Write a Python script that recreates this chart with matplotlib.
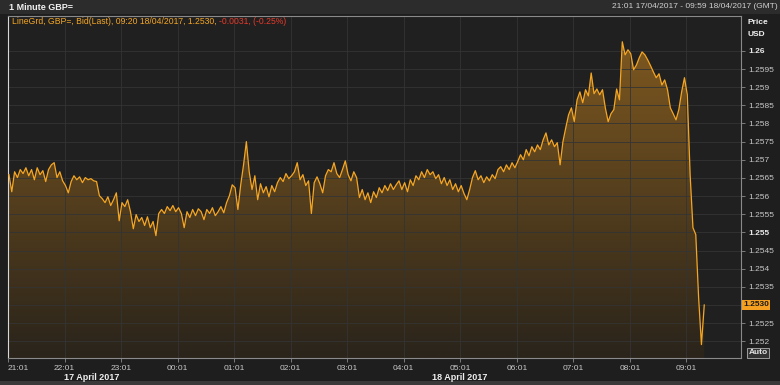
import matplotlib
matplotlib.use("Agg")
import matplotlib.pyplot as plt
import matplotlib.dates as mdates
from matplotlib.colors import LinearSegmentedColormap
from matplotlib.patches import Rectangle
import numpy as np
import pandas as pd

plt.rcParams['font.family'] = ['Liberation Sans', 'DejaVu Sans']

# GBP= bid, sampled every 3 minutes from 21:02 17/04 to 09:20 18/04
prices = [
    # 21:02 - 21:59
    1.25659, 1.25612, 1.25667, 1.25651, 1.25673, 1.25662, 1.25678, 1.25656, 1.25673, 1.25645,
    1.25678, 1.25659, 1.25670, 1.25640, 1.25673, 1.25686, 1.25692, 1.25651, 1.25667, 1.25642,
    # 22:02 - 22:59
    1.25629, 1.25609, 1.25640, 1.25656, 1.25645, 1.25653, 1.25637, 1.25651, 1.25645, 1.25648,
    1.25642, 1.25640, 1.25601, 1.25593, 1.25582, 1.25598, 1.25574, 1.25590, 1.25609, 1.25532,
    # 23:02 - 23:59
    1.25582, 1.25571, 1.25590, 1.25557, 1.25510, 1.25549, 1.25530, 1.25541, 1.25519, 1.25543,
    1.25513, 1.25530, 1.25491, 1.25552, 1.25563, 1.25552, 1.25571, 1.25560, 1.25574, 1.25557,
    # 00:02 - 00:59
    1.25568, 1.25552, 1.25513, 1.25557, 1.25541, 1.25563, 1.25546, 1.25565, 1.25557, 1.25535,
    1.25563, 1.25552, 1.25568, 1.25546, 1.25557, 1.25571, 1.25554, 1.25582, 1.25601, 1.25631,
    # 01:02 - 01:59
    1.25623, 1.25563, 1.25631, 1.25686, 1.25750, 1.25667, 1.25618, 1.25656, 1.25590, 1.25634,
    1.25609, 1.25626, 1.25598, 1.25629, 1.25612, 1.25637, 1.25651, 1.25640, 1.25662, 1.25648,
    # 02:02 - 02:59
    1.25656, 1.25667, 1.25692, 1.25645, 1.25659, 1.25629, 1.25642, 1.25552, 1.25637, 1.25653,
    1.25634, 1.25609, 1.25656, 1.25673, 1.25667, 1.25692, 1.25662, 1.25651, 1.25673, 1.25697,
    # 03:02 - 03:59
    1.25659, 1.25642, 1.25667, 1.25651, 1.25596, 1.25618, 1.25590, 1.25609, 1.25582, 1.25612,
    1.25596, 1.25623, 1.25609, 1.25629, 1.25615, 1.25634, 1.25618, 1.25631, 1.25642, 1.25618,
    # 04:02 - 04:59
    1.25637, 1.25612, 1.25645, 1.25629, 1.25656, 1.25645, 1.25667, 1.25651, 1.25673, 1.25659,
    1.25667, 1.25648, 1.25659, 1.25634, 1.25651, 1.25629, 1.25645, 1.25618, 1.25634, 1.25612,
    # 05:02 - 05:59
    1.25629, 1.25607, 1.25590, 1.25618, 1.25651, 1.25670, 1.25645, 1.25656, 1.25637, 1.25653,
    1.25642, 1.25659, 1.25648, 1.25673, 1.25681, 1.25667, 1.25686, 1.25673, 1.25692, 1.25678,
    # 06:02 - 06:59
    1.25695, 1.25714, 1.25700, 1.25728, 1.25711, 1.25736, 1.25722, 1.25741, 1.25728, 1.25755,
    1.25774, 1.25741, 1.25755, 1.25736, 1.25747, 1.25686, 1.25750, 1.25788, 1.25824, 1.25843,
    # 07:02 - 07:59
    1.25805, 1.25865, 1.25887, 1.25857, 1.25893, 1.25876, 1.25939, 1.25882, 1.25895, 1.25879,
    1.25893, 1.25843, 1.25805, 1.25827, 1.25838, 1.25895, 1.25865, 1.26025, 1.25989, 1.26003,
    # 08:02 - 08:59
    1.25992, 1.25948, 1.25961, 1.25981, 1.25997, 1.25989, 1.25975, 1.25959, 1.25942, 1.25926,
    1.25937, 1.25906, 1.25920, 1.25893, 1.25843, 1.25827, 1.25810, 1.25838, 1.25887, 1.25926,
    # 09:02 - 09:20
    1.25879, 1.25659, 1.25513, 1.25494, 1.25321, 1.25191, 1.25300,
]
times = pd.date_range("2017-04-17 21:02", periods=len(prices), freq="3min")

last_price = "1.2530"
legend_main = "LineGrd, GBP=, Bid(Last), 09:20 18/04/2017, 1.2530, "
legend_change = "-0.0031, (-0.25%)"
title = "1 Minute GBP="
range_text = "21:01 17/04/2017 - 09:59 18/04/2017 (GMT)"
hour_ticks = pd.date_range("2017-04-17 21:01", "2017-04-18 09:01", freq="1h")
y_ticks = np.arange(1.2520, 1.26001, 0.0005)

W, H = 780, 385
bg = '#1e1e1e'
orange = '#f5a623'

fig = plt.figure(figsize=(W / 100, H / 100), dpi=100, facecolor=bg)
ax = fig.add_axes([8 / W, 1 - 358 / H, (741 - 8) / W, (358 - 16) / H])
ax.set_facecolor('#202020')

x = mdates.date2num(times)
x0 = mdates.date2num(pd.Timestamp("2017-04-17 21:01"))
x1 = mdates.date2num(pd.Timestamp("2017-04-18 09:59"))
y0, y1 = 1.25154, 1.26096

# gradient area under the line
poly = ax.fill_between(x, prices, y0, facecolor='none', edgecolor='none')
cmap = LinearSegmentedColormap.from_list('fillgrad', ['#2a241b', '#845c20'])
grad = np.linspace(0, 1, 256).reshape(-1, 1)
im = ax.imshow(grad, extent=[x0, x1, y0, y1], origin='lower', aspect='auto',
               cmap=cmap, zorder=1)
im.set_clip_path(poly.get_paths()[0], transform=ax.transData)
ax.plot(x, prices, color=orange, lw=0.9, zorder=3)

ax.set_xlim(x0, x1)
ax.set_ylim(y0, y1)

ax.set_xticks(mdates.date2num(hour_ticks))
ax.xaxis.set_major_formatter(mdates.DateFormatter('%H:%M'))
ax.set_yticks(y_ticks)
ylabels = ['%g' % round(v, 4) for v in y_ticks]
ylabels = ['' if l == '1.253' else l for l in ylabels]  # covered by the last-price box
ax.set_yticklabels(ylabels)
ax.yaxis.tick_right()
ax.grid(True, color='#343434', lw=0.6, zorder=0)
ax.tick_params(axis='both', colors='#8a8a8a', labelcolor='#c8c8c8',
               labelsize=6, length=3, pad=2, width=0.6)
for lab in ax.get_yticklabels():
    if lab.get_text() in ('1.26', '1.255'):
        lab.set_fontweight('bold')
        lab.set_color('#e8e8e8')
ax.get_xticklabels()[0].set_horizontalalignment('left')

for side, sp in ax.spines.items():
    sp.set_color('#8a8a8a')
    sp.set_linewidth(0.8)
ax.spines['left'].set_color('#d8d8d8')

# header bar
fig.patches.append(Rectangle((0, 1 - 14 / H), 1, 14 / H, transform=fig.transFigure,
                             facecolor='#2c2c2c', edgecolor='none', zorder=0))
fig.patches.append(Rectangle((0, 0), 1, 4 / H, transform=fig.transFigure,
                             facecolor='#3a3a3a', edgecolor='none', zorder=0))
fig.text(9 / W, 1 - 7 / H, title, color='#f0f0f0', fontsize=6.5,
         fontweight='bold', va='center', ha='left')
fig.text(778 / W, 1 - 7 / H, range_text, color='#d0d0d0', fontsize=6,
         va='center', ha='right')

# legend line in two colours
t1 = fig.text(12 / W, 1 - 22 / H, legend_main, color=orange, fontsize=6.2,
              va='center', ha='left')
fig.canvas.draw()
bb = t1.get_window_extent()
fig.text(bb.x1 / W, 1 - 22 / H, legend_change, color='#e83a2a', fontsize=6.2,
         va='center', ha='left')

# axis captions on the right
fig.text(748 / W, 1 - 23 / H, "Price", color='#f0f0f0', fontsize=6,
         fontweight='bold', va='center', ha='left')
fig.text(748 / W, 1 - 34 / H, "USD", color='#f0f0f0', fontsize=6,
         fontweight='bold', va='center', ha='left')

# last price marker
ax.annotate(last_price, xy=(1, float(last_price)), xycoords=('axes fraction', 'data'),
            xytext=(1.5, 0), textcoords='offset points', va='center', ha='left',
            fontsize=6, color='#1a1a1a', fontweight='bold',
            bbox=dict(boxstyle='square,pad=0.15', fc='#f5a020', ec='none'))

fig.text(758 / W, 1 - 353 / H, "Auto", color='#e8e8e8', fontsize=6,
         va='center', ha='center', fontweight='bold',
         bbox=dict(boxstyle='square,pad=0.15', fc='#333333', ec='#b0b0b0', lw=0.6))

# date captions
fig.text(92 / W, 1 - 377 / H, "17 April 2017", color='#eeeeee', fontsize=6.5,
         fontweight='bold', va='center', ha='center')
fig.text(460 / W, 1 - 377 / H, "18 April 2017", color='#eeeeee', fontsize=6.5,
         fontweight='bold', va='center', ha='center')

fig.savefig("out.png", dpi=100, facecolor=bg)
